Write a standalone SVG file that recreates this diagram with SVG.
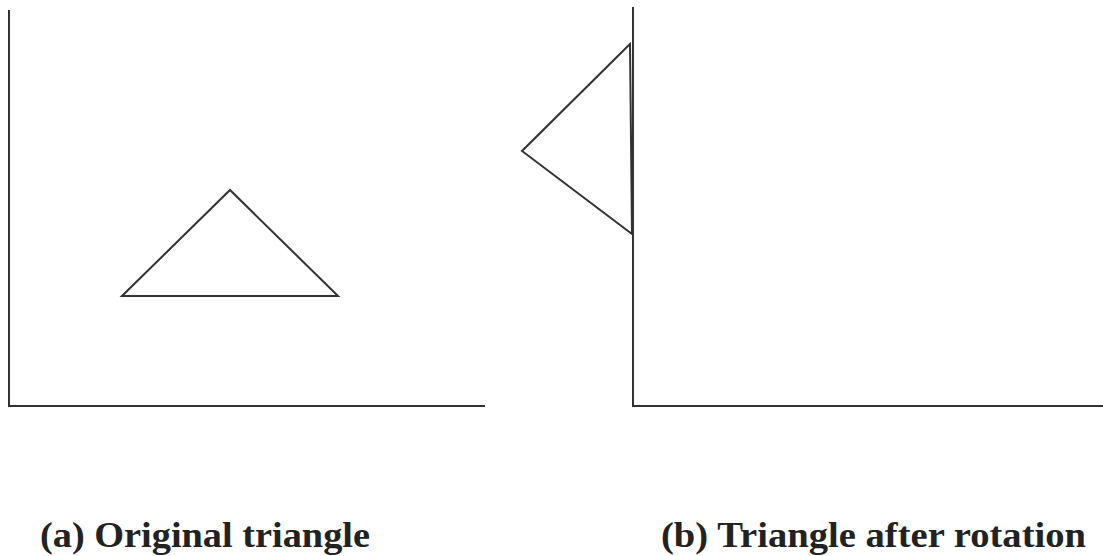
<svg xmlns="http://www.w3.org/2000/svg" width="1103" height="556" viewBox="0 0 1103 556">
<style>
.ax{stroke:#333;stroke-width:2;fill:none}
.tri{stroke:#333;stroke-width:2;fill:none;stroke-linejoin:miter}
.lbl{font-family:"Liberation Serif","DejaVu Serif",serif;font-size:36px;font-weight:bold;fill:#222}
</style>
<rect width="1103" height="556" fill="#fff"/>
<g id="panel-a">
<path class="ax" d="M9,10 V406 H485"/>
<path class="tri" d="M122,296 L230,190 L338,296 Z"/>
<text class="lbl" x="40" y="547" textLength="330" lengthAdjust="spacingAndGlyphs">(a) Original triangle</text>
</g>
<g id="panel-b">
<path class="ax" d="M633,7 V406 H1103"/>
<path class="tri" d="M630,44 L522,151 L632,234 Z"/>
<text class="lbl" x="661" y="547" textLength="425" lengthAdjust="spacingAndGlyphs">(b) Triangle after rotation</text>
</g>
<g id="connectors"/>
</svg>
